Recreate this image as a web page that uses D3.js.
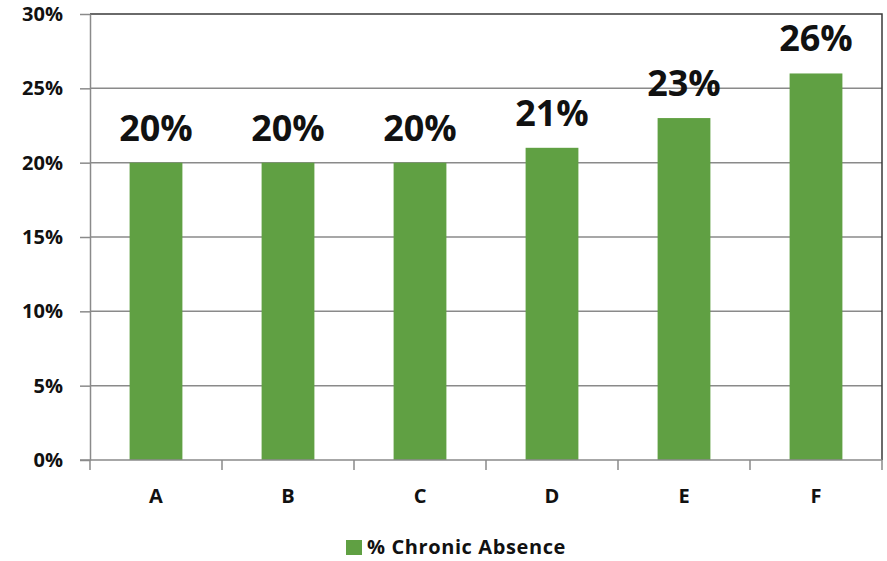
<!DOCTYPE html>
<html>
<head>
<meta charset="utf-8">
<script src="https://cdn.jsdelivr.net/npm/d3@7"></script>
<style>
  html, body { margin: 0; padding: 0; background: #fff; }
  svg { display: block; }
  text { font-family: "Open Sans", "Liberation Sans", Arial, sans-serif; font-weight: 700; fill: #111; }
</style>
</head>
<body>
<svg id="chart" width="887" height="561"></svg>
<script>
// Chart data
const categories = ["A", "B", "C", "D", "E", "F"];
const absenceValues = [20, 20, 20, 21, 23, 26];
const yTicks = [0, 5, 10, 15, 20, 25, 30];
const seriesName = "% Chronic Absence";

const W = 887, H = 561;
const plot = { left: 90, right: 882, top: 14, bottom: 460 };

const svg = d3.select("#chart");

const x = d3.scaleBand()
  .domain(categories)
  .range([plot.left, plot.right])
  .paddingInner(0.6)
  .paddingOuter(0.3);

const y = d3.scaleLinear()
  .domain([0, 30])
  .range([plot.bottom, plot.top]);

const gridColor = "#8a8a8a";

// Horizontal gridlines
svg.append("g")
  .selectAll("line")
  .data(yTicks.filter(d => d > 0 && d < 30))
  .join("line")
  .attr("x1", plot.left).attr("x2", plot.right)
  .attr("y1", d => y(d)).attr("y2", d => y(d))
  .attr("stroke", gridColor).attr("stroke-width", 1.5);

// Plot frame (top and right)
svg.append("path")
  .attr("d", `M${plot.left},${y(30)}H${plot.right}V${plot.bottom}`)
  .attr("fill", "none").attr("stroke", "#3a3a3a").attr("stroke-width", 1.5);

// Bars
svg.append("g")
  .selectAll("rect")
  .data(categories.map((c, i) => ({ c, v: absenceValues[i] })))
  .join("rect")
  .attr("x", d => x(d.c))
  .attr("y", d => y(d.v))
  .attr("width", x.bandwidth())
  .attr("height", d => y(0) - y(d.v))
  .attr("fill", "#60a043");

// Y axis
const yAxis = svg.append("g")
  .attr("transform", `translate(${plot.left},0)`)
  .call(d3.axisLeft(y).tickValues(yTicks).tickFormat(d => d + "%").tickSize(10).tickSizeOuter(0));
yAxis.select(".domain").attr("stroke", gridColor).attr("stroke-width", 1.5);
yAxis.selectAll(".tick line").attr("stroke", gridColor).attr("stroke-width", 1.5);
yAxis.selectAll(".tick text")
  .attr("x", -27)
  .style("font-size", "20px")
  .style("font-family", "'Open Sans', 'Liberation Sans', sans-serif")
  .style("font-weight", "700")
  .attr("fill", "#111");

// X axis with ticks between categories
const xAxis = svg.append("g")
  .attr("transform", `translate(0,${plot.bottom})`);
xAxis.append("line")
  .attr("x1", plot.left - 10).attr("x2", plot.right)
  .attr("stroke", gridColor).attr("stroke-width", 1.5);
const boundaries = d3.range(categories.length + 1).map(i => plot.left + i * (plot.right - plot.left) / categories.length);
xAxis.selectAll("line.sep")
  .data(boundaries)
  .join("line")
  .attr("class", "sep")
  .attr("x1", d => d).attr("x2", d => d)
  .attr("y1", 0).attr("y2", 10)
  .attr("stroke", gridColor).attr("stroke-width", 1.5);
xAxis.selectAll("text")
  .data(categories)
  .join("text")
  .attr("x", d => x(d) + x.bandwidth() / 2)
  .attr("y", 43)
  .attr("text-anchor", "middle")
  .style("font-size", "20px")
  .text(d => d);

// Value labels
svg.append("g")
  .selectAll("text")
  .data(categories.map((c, i) => ({ c, v: absenceValues[i] })))
  .join("text")
  .attr("x", d => x(d.c) + x.bandwidth() / 2)
  .attr("y", d => y(d.v) - 22)
  .attr("text-anchor", "middle")
  .style("font-size", "36px")
  .attr("fill", "#000")
  .text(d => d.v + "%");

// Legend
const legend = svg.append("g").attr("transform", "translate(346,540)");
legend.append("rect")
  .attr("width", 16).attr("height", 15)
  .attr("fill", "#60a043");
legend.append("text")
  .attr("x", 21).attr("y", 14)
  .style("font-size", "20px")
  .style("letter-spacing", "0.6px")
  .text(seriesName);
</script>
</body>
</html>
